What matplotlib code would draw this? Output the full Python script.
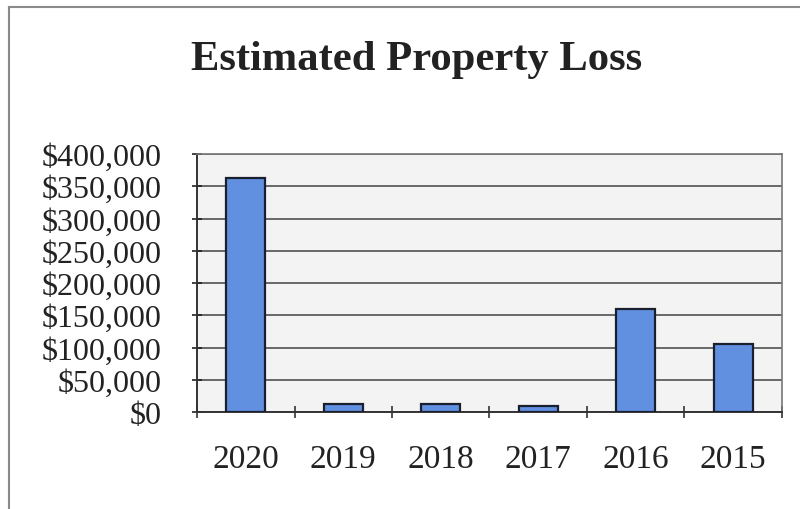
import matplotlib
matplotlib.use("Agg")
import matplotlib.pyplot as plt
from matplotlib.ticker import FuncFormatter, FixedLocator
from matplotlib.lines import Line2D

years = ["2020", "2019", "2018", "2017", "2016", "2015"]
losses = [363000, 12000, 12000, 9000, 159000, 105000]
y_ticks = [0, 50000, 100000, 150000, 200000, 250000, 300000, 350000, 400000]
title = "Estimated Property Loss"

plt.rcParams['font.family'] = ['Liberation Serif', 'DejaVu Serif']

fig = plt.figure(figsize=(8, 5.1), dpi=100)
fig.patch.set_facecolor('white')
ax = fig.add_axes([197/800, 1-413/510, (782-197)/800, (413-155)/510])
ax.set_facecolor('#f3f3f3')

x = list(range(len(years)))
ax.bar(x, losses, width=0.40, color='#6190e0', edgecolor='#1a1f2e', linewidth=1.6, zorder=3)

ax.set_xlim(-0.5, len(years) - 0.5)
ax.set_ylim(0, 400000)
ax.set_yticks(y_ticks)
ax.yaxis.set_major_formatter(FuncFormatter(lambda v, p: f"${int(v):,}"))
ax.grid(axis='y', color='#505050', linewidth=1.2, zorder=1)
ax.set_axisbelow(True)

ax.set_xticks(x)
ax.set_xticklabels(years)
ax.xaxis.set_minor_locator(FixedLocator([i - 0.5 for i in range(len(years) + 1)]))
ax.tick_params(axis='x', which='major', length=0, pad=23, labelsize=24, colors='#222222')
ax.tick_params(axis='x', which='minor', length=8, width=1.2, direction='inout', color='#333333')
ax.tick_params(axis='y', which='major', length=7, width=1.2, direction='inout', pad=22,
               labelsize=23, colors='#222222')

for side in ['left', 'bottom']:
    ax.spines[side].set_color('#333333')
    ax.spines[side].set_linewidth(1.4)
for side in ['top', 'right']:
    ax.spines[side].set_color('#777777')
    ax.spines[side].set_linewidth(1.2)

fig.text(417/800, 1-70/510, title, ha='center', va='baseline', fontsize=30.7,
         fontweight='bold', color='#222222')

# outer chart frame (left and top edges visible in reference)
fig.add_artist(Line2D([9/800, 9/800], [0, 1-8/510], transform=fig.transFigure,
                      color='#8a8a8a', linewidth=1.5))
fig.add_artist(Line2D([9/800, 1], [1-8/510, 1-8/510], transform=fig.transFigure,
                      color='#8a8a8a', linewidth=1.5))

fig.savefig("out.png", dpi=100)
